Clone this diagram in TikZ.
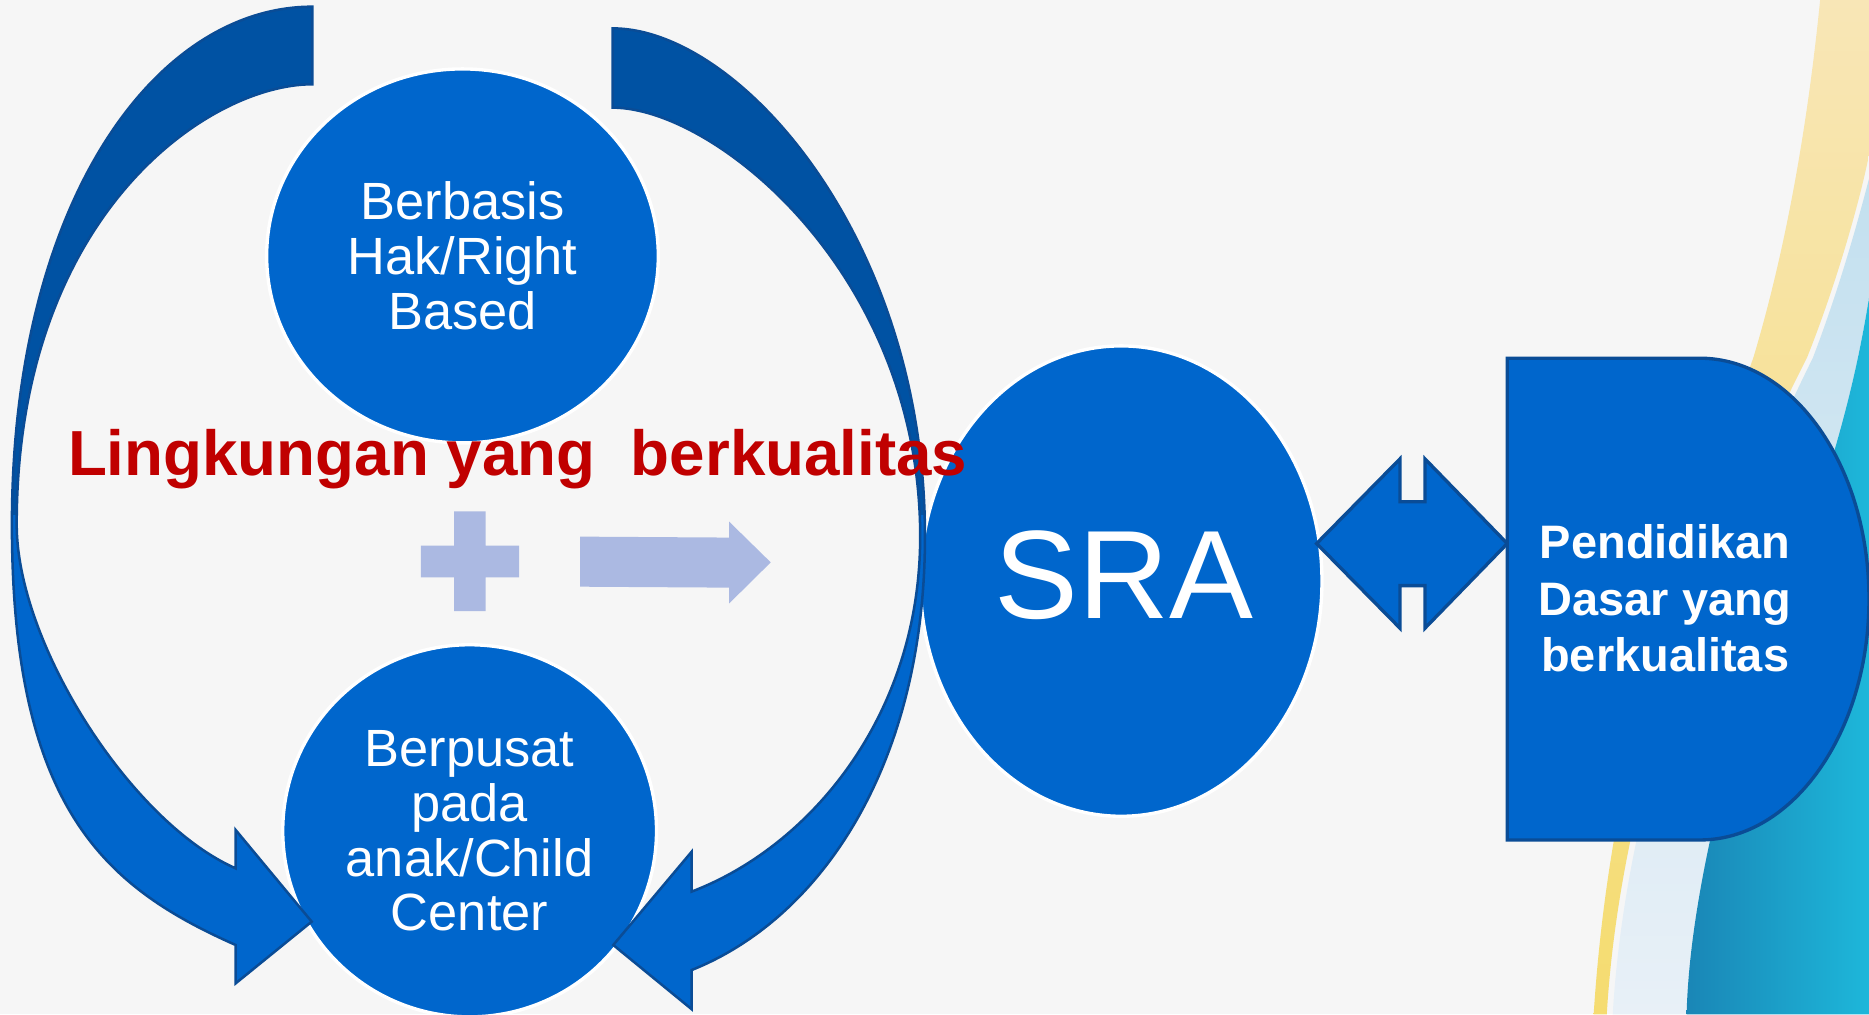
\documentclass[tikz,border=0pt]{standalone}
\usepackage{fontspec}
\setmainfont{Liberation Sans}
\usepackage{xcolor}
\usepackage{tikz}
\usetikzlibrary{positioning, shapes.geometric}

\definecolor{sraBlue}{HTML}{0066CC}
\definecolor{sraDark}{HTML}{0052A3}
\definecolor{sraEdge}{HTML}{0A4C96}
\definecolor{lilac}{HTML}{ABB9E2}
\definecolor{judulRed}{HTML}{C00000}
\definecolor{bgGray}{HTML}{F6F6F6}
\definecolor{bandYellowA}{HTML}{F8E6B6}
\definecolor{bandYellowB}{HTML}{F5DC70}
\definecolor{bandBlueA}{HTML}{C3E0EF}
\definecolor{bandBlueB}{HTML}{E8F0F7}
\definecolor{seaDark}{HTML}{1A86B6}
\definecolor{seaLight}{HTML}{1DB7DA}

% outlines of the two bent arrows
\def\leftbend{(262,5.6) .. controls (130,5.6) and (10,170) .. (10,440)
  .. controls (10,680) and (90,745) .. (197.7,792.8)
  -- (197.7,825) -- (261.5,773.2) -- (197.7,696.3) -- (197.7,728.5)
  .. controls (110,690) and (14,540) .. (14,440)
  .. controls (14,180) and (175,70.7) .. (262,70.7) -- cycle}
\def\rightbend{(514,23.8) .. controls (620,23.8) and (776,200) .. (776,450)
  .. controls (776,640) and (690,770) .. (580.3,813.8)
  -- (580.3,846.7) -- (514.5,792.8) -- (580.3,714.5) -- (580.3,748)
  .. controls (680,710) and (772,600) .. (772,450)
  .. controls (772,230) and (600,90.3) .. (514,90.3) -- cycle}

\begin{document}
\begin{tikzpicture}[
  x=0.01cm, y=-0.01cm,
  bubble/.style={ellipse, fill=sraBlue, draw=white, line width=0.8pt, inner sep=0pt,
    text=white, align=center, font=\fontsize{12.5}{13.1}\selectfont},
  bent/.style={draw=sraEdge, line width=0.6pt},
  flat/.style={fill=lilac, draw=none},
  block/.style={fill=sraBlue, draw=sraEdge, line width=0.8pt}
]
\useasboundingbox (0,0) rectangle (1568,851);
\clip (0,0) rectangle (1568,851);

% --- background and waves on the right ---
\fill[bgGray] (0,0) rectangle (1568,851);
\shade[top color=bandYellowA, bottom color=bandYellowB]
  (1527,0) .. controls (1515,120) and (1495,220) .. (1471,300)
  .. controls (1400,500) and (1350,650) .. (1337,851) -- (1348,851)
  .. controls (1360,650) and (1440,450) .. (1516,300)
  .. controls (1540,240) and (1560,170) .. (1568,130) -- (1568,0) -- cycle;
\shade[top color=bandBlueA, bottom color=bandBlueB]
  (1568,150) .. controls (1555,200) and (1540,250) .. (1521,300)
  .. controls (1445,455) and (1365,650) .. (1353,851) -- (1415,851)
  .. controls (1418,720) and (1480,520) .. (1539,378)
  .. controls (1550,340) and (1560,300) .. (1568,250) -- cycle;
\shade[left color=seaDark, right color=seaLight]
  (1568,250) .. controls (1560,300) and (1550,340) .. (1539,378)
  .. controls (1480,520) and (1418,720) .. (1415,851) -- (1568,851) -- cycle;

% --- circles ---
\node[bubble, minimum width=3.284cm, minimum height=3.136cm] (hak) at (388,214.7)
  {Berbasis\\Hak/Right\\Based};
\node[bubble, minimum width=3.134cm, minimum height=3.12cm] (anak) at (394,697)
  {Berpusat\\pada\\anak/Child\\Center};
\node[bubble, minimum width=3.368cm, minimum height=3.944cm] (sra) at (940.6,487.5) {};
\node[text=white, inner sep=0pt, font=\fontsize{30}{32}\selectfont] (sraText) at (943,482.5) {SRA};

% --- bent arrows round the two circles ---
\fill[sraBlue] \leftbend;
\fill[sraBlue] \rightbend;
\begin{scope}
  \clip (0,0) rectangle (1568,432);
  \fill[sraDark] \leftbend;
  \fill[sraDark] \rightbend;
\end{scope}
\draw[bent] \leftbend;
\draw[bent] \rightbend;

% --- plus and arrow ---
\fill[flat] (381,429) -- (407.4,429) -- (407.4,457.8) -- (435.6,457.8) -- (435.6,484.3)
  -- (407.4,484.3) -- (407.4,512.6) -- (381,512.6) -- (381,484.3) -- (353,484.3)
  -- (353,457.8) -- (381,457.8) -- cycle;
\fill[flat] (486.6,450.2) -- (611.8,451) -- (611.8,437.7) -- (646.6,471.8)
  -- (611.8,506.2) -- (611.8,493) -- (486.6,492.2) -- cycle;

% --- double arrow and goal shape ---
\draw[block] (1104.6,456) -- (1174.5,385) -- (1174.5,421) -- (1195.5,421) -- (1195.5,385)
  -- (1264.5,456) -- (1195.5,527) -- (1195.5,491.3) -- (1174.5,491.3) -- (1174.5,527) -- cycle;
\draw[block] (1264.5,300.5) -- (1426,300.5)
  .. controls (1504.4,300.5) and (1568,391) .. (1568,502.6)
  .. controls (1568,614) and (1504.4,704.7) .. (1426,704.7)
  -- (1264.5,704.7) -- cycle;
\node[text=white, align=center, font=\bfseries\fontsize{11.2}{13.45}\selectfont]
  (dasar) at (1397,502) {Pendidikan\\Dasar yang\\berkualitas};

% --- title ---
\node[anchor=base west, inner sep=0pt, text=judulRed,
  font=\bfseries\fontsize{15.2}{18}\selectfont] (judul) at (56.4,399.3)
  {Lingkungan yang~~berkualitas};
\end{tikzpicture}
\end{document}
